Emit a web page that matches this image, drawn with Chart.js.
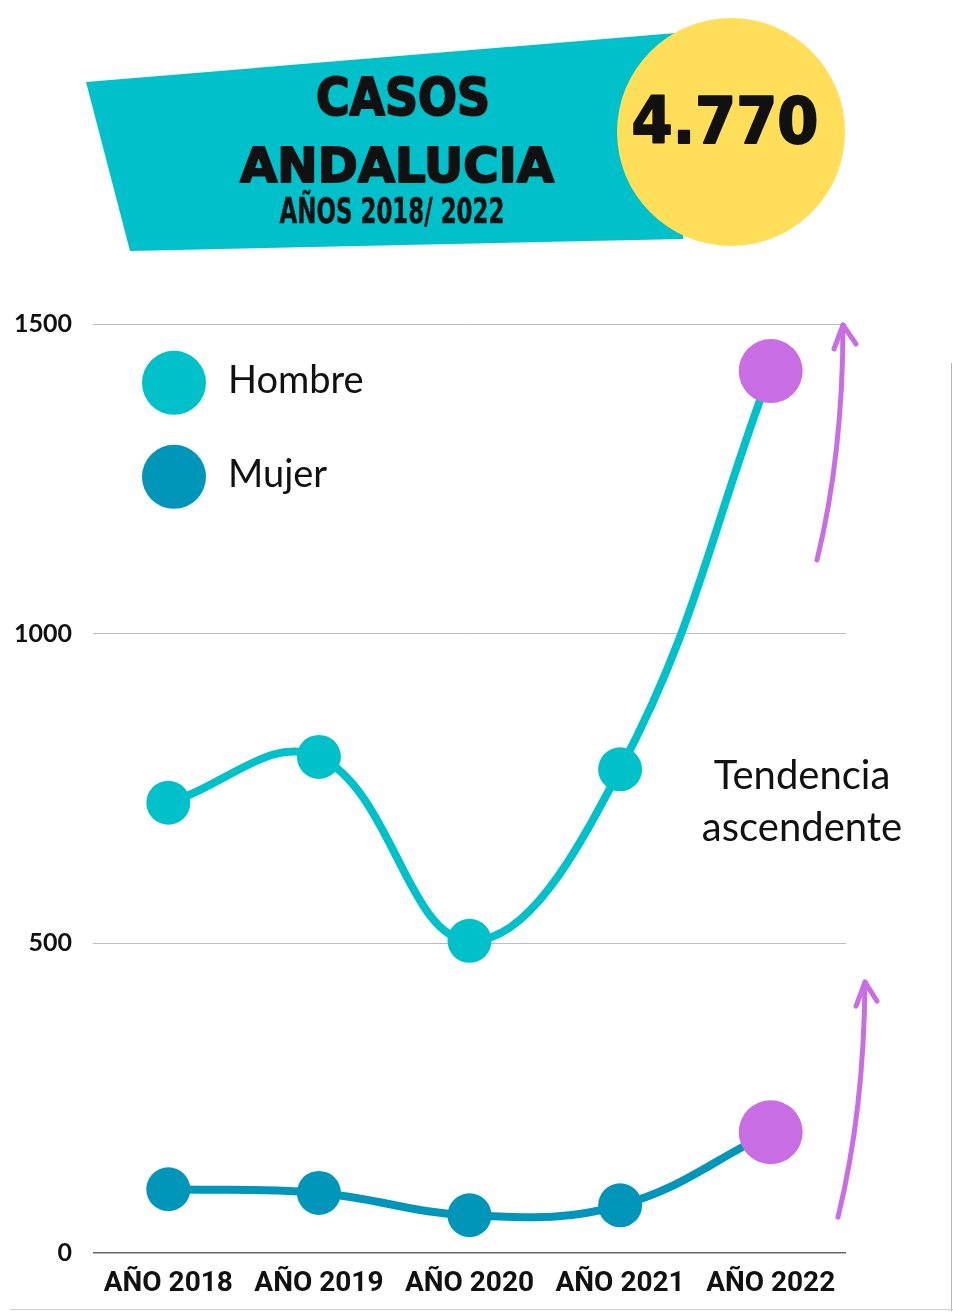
<!DOCTYPE html>
<html>
<head>
<meta charset="utf-8">
<script src="https://cdn.jsdelivr.net/npm/chart.js@4.4.1/dist/chart.umd.min.js"></script>
<style>
  html,body{margin:0;padding:0;background:#fff;}
  #wrap{position:relative;width:953px;height:1312px;overflow:hidden;}
  #c{position:absolute;left:0;top:0;}
  #hdr{position:absolute;left:0;top:0;}
  #frameR{position:absolute;left:951px;top:363px;width:1px;height:948px;background:#b5b5b5;}
  #frameB{position:absolute;left:10px;top:1309px;width:943px;height:1px;background:#d0d0d0;}
</style>
</head>
<body>
<div id="wrap">
  <canvas id="c" width="953" height="1312"></canvas>
  <svg id="hdr" width="953" height="270" xmlns="http://www.w3.org/2000/svg">
    <polygon points="86,82 700,31 683,239 130,251" fill="#00C1CA"/>
    <ellipse cx="731" cy="132" rx="114" ry="114" fill="#FFDE59"/>
    <g fill="#111" stroke="#111" stroke-linejoin="round">
    <text x="403" y="115" text-anchor="middle" font-family="DejaVu Sans" font-weight="bold" font-size="51" stroke-width="2" textLength="174" lengthAdjust="spacingAndGlyphs">CASOS</text>
    <text x="397" y="182" text-anchor="middle" font-family="DejaVu Sans" font-weight="bold" font-size="48" stroke-width="2" textLength="314" lengthAdjust="spacingAndGlyphs">ANDALUCIA</text>
    <text x="392" y="223" text-anchor="middle" font-family="DejaVu Sans" font-stretch="condensed" font-weight="bold" font-size="36" stroke-width="0.5" textLength="225" lengthAdjust="spacingAndGlyphs">AÑOS 2018/ 2022</text>
    <text x="725" y="143" text-anchor="middle" font-family="DejaVu Sans" font-weight="bold" font-size="64" stroke-width="2" textLength="187" lengthAdjust="spacingAndGlyphs">4.770</text>
    </g>
  </svg>
  <div id="frameR"></div>
  <div id="frameB"></div>
</div>
<script>
// ---- data ----
const categories = ["AÑO 2018", "AÑO 2019", "AÑO 2020", "AÑO 2021", "AÑO 2022"];
const hombre = [727, 801, 504, 781, 1424];
const mujer = [103, 97, 61, 77, 195];
const seriesNames = ["Hombre", "Mujer"];
const yTicks = [0, 500, 1000, 1500];
const noteLines = ["Tendencia", "ascendente"];

// ---- styles ----
const teal = "#00C1CA";
const blue = "#0096B9";
const purple = "#C86DE3";
const lastIdx = categories.length - 1;
const ptColors = base => categories.map((_, i) => i === lastIdx ? purple : base);
const ptRadius = categories.map((_, i) => i === lastIdx ? 32 : 22);

function drawArrow(ctx, sx, sy, cx, cy, tx, ty, b1x, b1y, b2x, b2y) {
  ctx.save();
  ctx.strokeStyle = purple;
  ctx.lineWidth = 5;
  ctx.lineCap = "round";
  ctx.lineJoin = "round";
  ctx.beginPath();
  ctx.moveTo(sx, sy);
  ctx.quadraticCurveTo(cx, cy, tx, ty);
  ctx.stroke();
  ctx.beginPath();
  ctx.moveTo(b1x, b1y);
  ctx.lineTo(tx, ty);
  ctx.lineTo(b2x, b2y);
  ctx.stroke();
  ctx.restore();
}

const decor = {
  id: "decor",
  afterDraw(chart) {
    const ctx = chart.ctx;
    const ca = chart.chartArea;
    const y = chart.scales.y;
    // legend
    ctx.save();
    chart.data.datasets.forEach((ds, i) => {
      const cy = y.getPixelForValue(1405) + i * 94;
      ctx.fillStyle = ds.borderColor;
      ctx.beginPath();
      ctx.arc(ca.left + 81, cy, 32, 0, Math.PI * 2);
      ctx.fill();
      ctx.fillStyle = "#111";
      ctx.font = "38px Lato";
      ctx.textBaseline = "middle";
      ctx.textAlign = "left";
      ctx.fillText(ds.label, ca.left + 135, cy - 2);
    });
    // note text
    ctx.font = "40px Lato";
    ctx.textAlign = "center";
    ctx.textBaseline = "middle";
    noteLines.forEach((t, i) => {
      ctx.fillText(t, ca.right - 44, y.getPixelForValue(770) + i * 52);
    });
    ctx.restore();
    // arrows
    const r = ca.right;
    const t1 = y.getPixelForValue(1500);
    drawArrow(ctx, r - 29, t1 + 236, r - 3, t1 + 130, r - 3, t1 + 1, r - 12, t1 + 25, r + 10, t1 + 20);
    const t2 = y.getPixelForValue(439);
    drawArrow(ctx, r - 8, t2 + 236, r + 18, t2 + 130, r + 19, t2 + 1, r + 10, t2 + 25, r + 31, t2 + 20);
  }
};

new Chart(document.getElementById("c"), {
  type: "line",
  data: {
    labels: categories,
    datasets: [
      {
        label: seriesNames[0], data: hombre,
        borderColor: teal, backgroundColor: teal,
        pointBackgroundColor: ptColors(teal), pointRadius: ptRadius,
        pointBorderWidth: 0, borderWidth: 8, tension: 0.4
      },
      {
        label: seriesNames[1], data: mujer,
        borderColor: blue, backgroundColor: blue,
        pointBackgroundColor: ptColors(blue), pointRadius: ptRadius,
        pointBorderWidth: 0, borderWidth: 8, tension: 0.4
      }
    ]
  },
  options: {
    responsive: false,
    animation: false,
    events: [],
    layout: { padding: { left: 0, top: 324, right: 107, bottom: 0 } },
    plugins: { legend: { display: false }, tooltip: { enabled: false } },
    scales: {
      x: {
        offset: true,
        grid: { display: false, drawTicks: false },
        border: { display: false },
        ticks: {
          color: "#111", padding: 14, maxRotation: 0, minRotation: 0, autoSkip: false,
          font: { family: "Roboto", weight: "bold", size: 28 }
        },
        afterFit(s) { s.height = 59; }
      },
      y: {
        min: 0, max: 1500,
        afterBuildTicks(s) { s.ticks = yTicks.map(v => ({ value: v })); },
        grid: {
          drawTicks: false,
          color: c => c.tick && c.tick.value === 0 ? "#666" : "#bdbdbd",
          lineWidth: c => c.tick && c.tick.value === 0 ? 1.5 : 1
        },
        border: { display: false },
        ticks: {
          color: "#111", padding: 21,
          callback: v => String(v),
          font: { family: "Lato", weight: "bold", size: 25 }
        },
        afterFit(s) { s.width = 93; }
      }
    }
  },
  plugins: [decor]
});
</script>
</body>
</html>
